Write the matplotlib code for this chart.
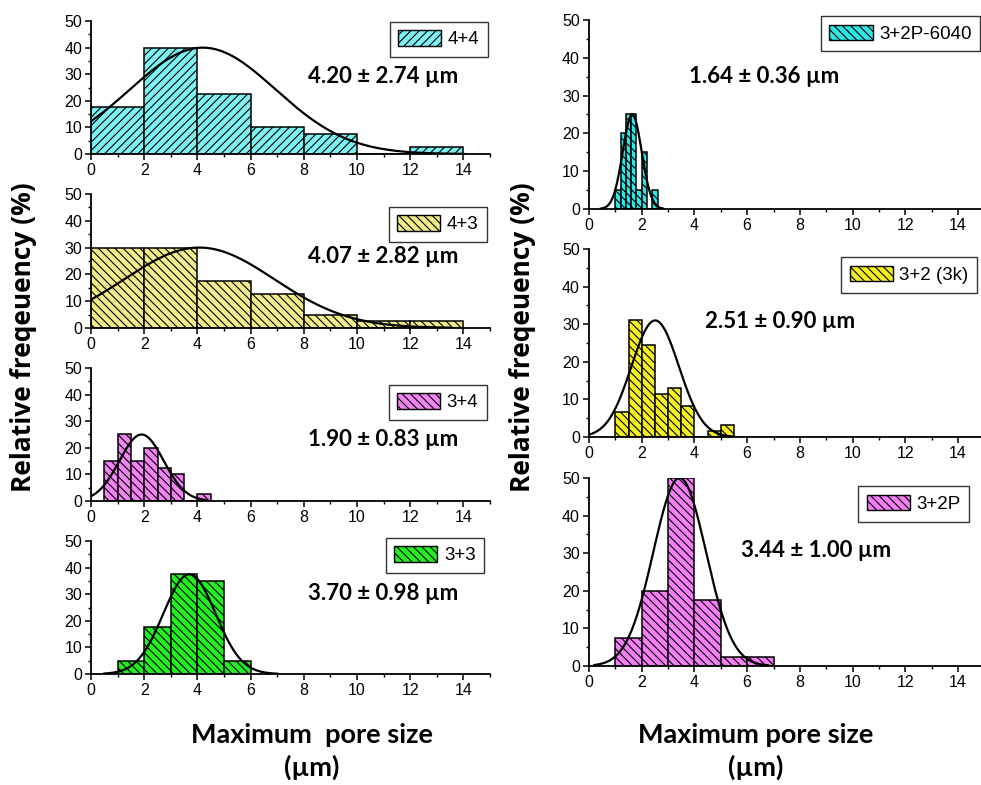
import numpy as np
import matplotlib
matplotlib.use("Agg")
import matplotlib.pyplot as plt
from matplotlib.patches import Patch
from matplotlib.ticker import MultipleLocator

plt.rcParams['font.family'] = 'Liberation Sans'
plt.rcParams['hatch.linewidth'] = 0.8

# ---- datos (frecuencia relativa, %) ----
# izquierda
edges_44 = [0, 2, 4, 6, 8, 10, 12]
freq_44 = [17.5, 40, 22.5, 10, 7.5, 0, 2.5]
edges_43 = [0, 2, 4, 6, 8, 10, 12]
freq_43 = [30, 30, 17.5, 12.5, 5, 2.5, 2.5]
edges_34 = [0.5, 1.0, 1.5, 2.0, 2.5, 3.0, 3.5, 4.0]
freq_34 = [15, 25, 15, 20, 12.5, 10, 0, 2.5]
edges_33 = [1, 2, 3, 4, 5]
freq_33 = [5, 17.5, 37.5, 35, 5]
# derecha
edges_p6040 = [1.0, 1.2, 1.4, 1.6, 1.8, 2.0, 2.2, 2.4]
freq_p6040 = [5, 20, 25, 25, 5, 15, 0, 5]
edges_3k = [1.0, 1.5, 2.0, 2.5, 3.0, 3.5, 4.0, 4.5, 5.0]
freq_3k = [6.56, 31.1, 24.6, 11.5, 13.1, 8.2, 0, 1.64, 3.28]
edges_p = [1, 2, 3, 4, 5, 6]
freq_p = [7.5, 20, 50, 17.5, 2.5, 2.5]

means = [4.20, 4.07, 1.90, 3.70, 1.64, 2.51, 3.44]
sds = [2.74, 2.82, 0.83, 0.98, 0.36, 0.90, 1.00]
peaks = [40, 30, 25, 37.5, 25, 31, 50]
labels = ["4+4", "4+3", "3+4", "3+3", "3+2P-6040", "3+2 (3k)", "3+2P"]

# ---- estilo de cada panel ----
paneles = [
    # edges, freq, width, color, hatch, rango curva, pos axes, pos leyenda, pos texto
    (edges_44, freq_44, 2.0, '#7df2f2', '////', (0, 14),
     [0.0928, 0.8038, 0.4067, 0.1694], (0.995, 0.995), (11.0, 29)),
    (edges_43, freq_43, 2.0, '#f2ec8a', '\\\\\\\\', (0, 13.5),
     [0.0928, 0.5822, 0.4067, 0.1707], (0.992, 0.905), (11.0, 26.6)),
    (edges_34, freq_34, 0.5, '#f283f2', '\\\\\\\\', (0, 4.3),
     [0.0928, 0.3618, 0.4067, 0.1694], (0.992, 0.875), (11.0, 23)),
    (edges_33, freq_33, 1.0, '#22ee22', '\\\\\\\\', (0.5, 7),
     [0.0928, 0.1414, 0.4067, 0.1694], (0.985, 1.025), (11.0, 30.4)),
    (edges_p6040, freq_p6040, 0.2, '#2de6e6', '\\\\\\\\', (0.45, 2.8),
     [0.6004, 0.7338, 0.4031, 0.2408], (0.989, 1.02), (6.64, 35)),
    (edges_3k, freq_3k, 0.5, '#f5f020', '\\\\\\\\', (0, 5.5),
     [0.6004, 0.4433, 0.4031, 0.2395], (0.981, 0.955), (7.23, 30.7)),
    (edges_p, freq_p, 1.0, '#f57ef5', '\\\\\\\\', (0.2, 6.8),
     [0.6004, 0.1516, 0.4031, 0.2395], (0.961, 0.955), (8.6, 30.6)),
]

fig = plt.figure(figsize=(9.81, 7.85), dpi=100)

for i, (edges, freq, w, color, hatch, rng, pos, legpos, txtpos) in enumerate(paneles):
    ax = fig.add_axes(pos)
    ax.bar(edges, freq, width=w, align='edge', color=color, edgecolor='black',
           linewidth=1.1, hatch=hatch)

    # curva gaussiana
    x = np.linspace(rng[0], rng[1], 300)
    y = peaks[i] * np.exp(-(x - means[i]) ** 2 / (2 * sds[i] ** 2))
    ax.plot(x, y, color='black', lw=1.6)

    ax.set_xlim(0, 15)
    ax.set_ylim(0, 50)
    ax.set_xticks(np.arange(0, 15, 2))
    ax.set_yticks(np.arange(0, 51, 10))
    ax.xaxis.set_minor_locator(MultipleLocator(1))
    ax.yaxis.set_minor_locator(MultipleLocator(5))
    ax.tick_params(which='major', direction='out', length=4.5, width=1.1, labelsize=11.5, pad=2)
    ax.tick_params(which='minor', direction='out', length=2.5, width=1.0)
    for s in ['top', 'right']:
        ax.spines[s].set_visible(False)
    for s in ['left', 'bottom']:
        ax.spines[s].set_linewidth(1.3)

    h = Patch(facecolor=color, edgecolor='black', hatch=hatch, linewidth=1.0)
    leg = ax.legend([h], [labels[i]], loc='upper right', bbox_to_anchor=legpos,
                    fontsize=13.5, frameon=True, fancybox=False, borderpad=0.45,
                    handlelength=2.3, handleheight=0.9, handletextpad=0.35,
                    borderaxespad=0)
    leg.get_frame().set_edgecolor('black')
    leg.get_frame().set_linewidth(1.0)

    ax.text(txtpos[0], txtpos[1], f"{means[i]:.2f} ± {sds[i]:.2f} µm",
            ha='center', va='center', fontsize=16, fontweight='bold', family='Lato')

# etiquetas de ejes
fig.text(24 / 981, 1 - 337 / 785, "Relative freqeuency (%)", rotation=90,
         ha='center', va='center', fontsize=19, fontweight='bold', family='Open Sans')
fig.text(522 / 981, 1 - 337 / 785, "Relative freqeuency (%)", rotation=90,
         ha='center', va='center', fontsize=19, fontweight='bold', family='Open Sans')
fig.text(312 / 981, 1 - 735 / 785, "Maximum  pore size", ha='center', va='center',
         fontsize=19.5, fontweight='bold', family='Lato')
fig.text(312 / 981, 1 - 767 / 785, "(µm)", ha='center', va='center',
         fontsize=19.5, fontweight='bold', family='Lato')
fig.text(756 / 981, 1 - 735 / 785, "Maximum pore size", ha='center', va='center',
         fontsize=19.5, fontweight='bold', family='Lato')
fig.text(756 / 981, 1 - 767 / 785, "(µm)", ha='center', va='center',
         fontsize=19.5, fontweight='bold', family='Lato')

fig.savefig("out.png", dpi=100)
